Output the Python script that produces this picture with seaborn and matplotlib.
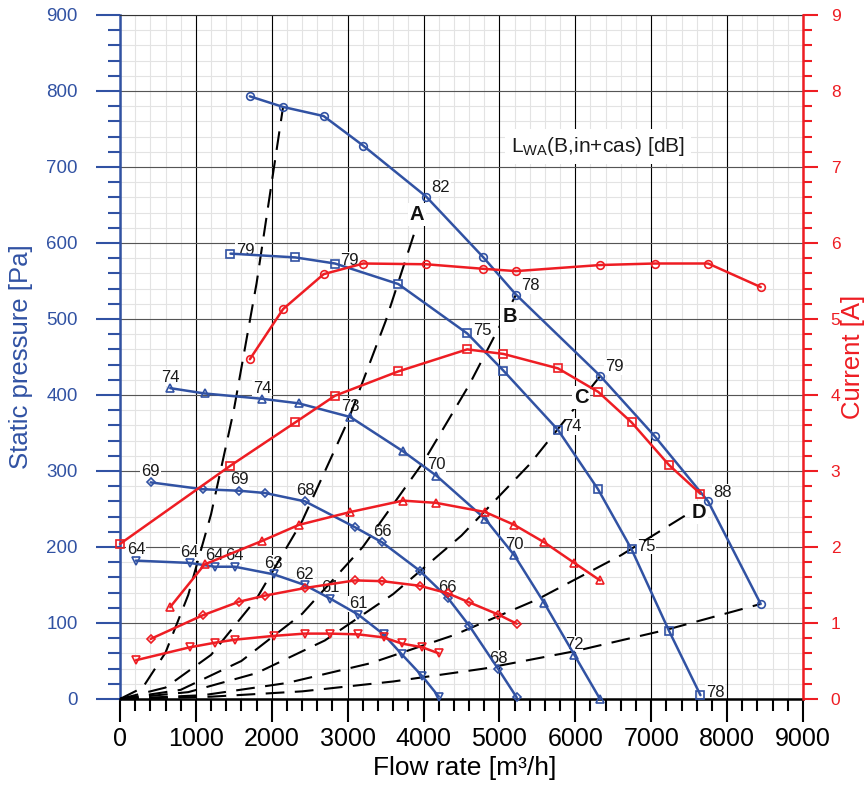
import matplotlib
matplotlib.use("Agg")
import matplotlib.pyplot as plt
import seaborn as sns
from matplotlib.ticker import MultipleLocator

BLUE = '#3152a3'
RED = '#ee1d23'

# circle curve (top speed): flow [m3/h], static pressure [Pa], current [A]
flow_o = [1711, 2149, 2684, 3206, 4035, 4789, 5219, 6329, 7044, 7750, 8443]
pres_o = [793, 779, 767, 728, 661, 581, 532, 425, 346, 260, 125]
curr_o = [4.47, 5.13, 5.59, 5.73, 5.72, 5.66, 5.63, 5.71, 5.73, 5.73, 5.42]
lbl_o_idx = [4, 6, 7, 9]
lbl_o_txt = ['82', '78', '79', '88']

# square curve
flow_s = [1456, 2311, 2833, 3667, 4575, 5053, 5772, 6299, 6741, 7233, 7649]
pres_s = [586, 581, 573, 546, 481, 432, 354, 276, 197, 90, 5]
flow_s_cur = [0, 1456, 2311, 2833, 3667, 4575, 5053, 5772, 6303, 6741, 7233, 7649]
curr_s = [2.04, 3.07, 3.64, 3.99, 4.31, 4.60, 4.54, 4.35, 4.04, 3.64, 3.08, 2.70]
lbl_s_idx = [0, 2, 4, 6, 8, 10]
lbl_s_txt = ['79', '79', '75', '74', '75', '78']

# triangle curve
flow_t = [662, 1114, 1873, 2355, 3035, 3728, 4167, 4811, 5197, 5592, 5987, 6325]
pres_t = [409, 402, 395, 389, 371, 326, 294, 237, 189, 126, 58, 0]
curr_t = [1.21, 1.77, 2.08, 2.29, 2.46, 2.61, 2.58, 2.46, 2.29, 2.06, 1.79, 1.56]
lbl_t_idx = [0, 2, 4, 6, 8, 10]
lbl_t_txt = ['74', '74', '73', '70', '70', '72']

# diamond curve
flow_d = [404, 1088, 1570, 1912, 2439, 3096, 3456, 3947, 4320, 4605, 4987, 5228]
pres_d = [285, 276, 274, 271, 260, 226, 206, 169, 133, 96, 39, 2]
curr_d = [0.79, 1.10, 1.28, 1.36, 1.46, 1.56, 1.55, 1.49, 1.39, 1.27, 1.11, 0.99]
lbl_d_idx = [0, 2, 4, 6, 8, 10]
lbl_d_txt = ['69', '69', '68', '66', '66', '68']

# inverted triangle curve (lowest speed)
flow_v = [211, 921, 1250, 1513, 2026, 2434, 2772, 3140, 3474, 3711, 3983, 4201]
pres_v = [182, 179, 174, 174, 164, 150, 132, 111, 85, 59, 30, 3]
curr_v = [0.51, 0.68, 0.74, 0.78, 0.83, 0.86, 0.86, 0.85, 0.81, 0.73, 0.68, 0.60]
lbl_v_idx = [0, 1, 2, 3, 4, 5, 6, 7]
lbl_v_txt = ['64', '64', '64', '64', '63', '62', '61', '61']

# system curves (dashed)
sys_x = [
    [0, 300, 600, 900, 1200, 1500, 1800, 2149],
    [0, 600, 1200, 1800, 2400, 3000, 3500, 4035],
    [0, 800, 1600, 2400, 3200, 4000, 4600, 5219],
    [0, 900, 1800, 2700, 3600, 4500, 5400, 6329],
    [0, 1100, 2200, 3300, 4400, 5500, 6600, 7750],
    [0, 1200, 2400, 3600, 4800, 6000, 7200, 8443],
]
sys_y = [
    [0, 15, 61, 137, 243, 380, 547, 779],
    [0, 15, 58, 132, 234, 365, 497, 661],
    [0, 12, 50, 112, 200, 312, 413, 532],
    [0, 9, 34, 77, 138, 215, 309, 425],
    [0, 5, 21, 47, 84, 131, 189, 260],
    [0, 3, 10, 23, 40, 63, 91, 125],
]
sys_names = ['A', 'B', 'C', 'D']
sys_name_x = [3914, 5132, 6075, 7632]
sys_name_y = [637, 503, 397, 245]

sns.set_theme(style='white')
plt.rcParams['font.family'] = ['Liberation Sans', 'DejaVu Sans']
plt.rcParams['mathtext.fontset'] = 'custom'
plt.rcParams['mathtext.rm'] = 'Liberation Sans'
plt.rcParams['mathtext.it'] = 'Liberation Sans:italic'

fig = plt.figure(figsize=(8.65, 7.85), dpi=100)
rect = [0.1387, 0.1096, 0.9283 - 0.1387, 0.9809 - 0.1096]

# light minor grid on its own axes underneath, so it never cuts the major lines
ax_bg = fig.add_axes(rect, zorder=-1)
ax_bg.set_xlim(0, 9000)
ax_bg.set_ylim(0, 900)
ax_bg.xaxis.set_major_locator(MultipleLocator(200))
ax_bg.yaxis.set_major_locator(MultipleLocator(20))
ax_bg.grid(True, color='#e3e3e3', lw=0.8)
ax_bg.tick_params(bottom=False, left=False, labelbottom=False, labelleft=False)
for s in ax_bg.spines.values():
    s.set_visible(False)

ax = fig.add_axes(rect)
ax.patch.set_visible(False)
ax2 = ax.twinx()

# dashed system curves
for sx, sy in zip(sys_x, sys_y):
    sns.lineplot(x=sx, y=sy, ax=ax, color='black', lw=1.5, linestyle=(0, (9, 5)),
                 estimator=None, sort=False, zorder=2.6)

curves = [
    (flow_o, pres_o, flow_o, curr_o, 'o', 5.5, lbl_o_idx, lbl_o_txt, 'right'),
    (flow_s, pres_s, flow_s_cur, curr_s, 's', 5.5, lbl_s_idx, lbl_s_txt, 'side'),
    (flow_t, pres_t, flow_t, curr_t, '^', 5.5, lbl_t_idx, lbl_t_txt, 'top'),
    (flow_d, pres_d, flow_d, curr_d, 'D', 4.0, lbl_d_idx, lbl_d_txt, 'top'),
    (flow_v, pres_v, flow_v, curr_v, 'v', 5.5, lbl_v_idx, lbl_v_txt, 'top'),
]

for fx, py, cx, cy, mk, ms, li, lt, pos in curves:
    sns.lineplot(x=fx, y=py, ax=ax, color=BLUE, lw=1.8, marker=mk, ms=ms,
                 mfc='none', mec=BLUE, mew=1.2, estimator=None, sort=False,
                 zorder=3, clip_on=False)
    sns.lineplot(x=cx, y=cy, ax=ax2, color=RED, lw=1.8, marker=mk, ms=ms,
                 mfc='none', mec=RED, mew=1.2, estimator=None, sort=False,
                 zorder=3, clip_on=False)
    for i, t in zip(li, lt):
        if pos == 'right':
            off, ha = (3.5, 3.5), 'left'
        elif pos == 'side':
            off, ha = (4, -1), 'left'
        else:
            off, ha = (0, 4.5), 'center'
        ax.annotate(t, (fx[i], py[i]), xytext=off, textcoords='offset points',
                    ha=ha, va='baseline', fontsize=12, color='#1a1a1a', zorder=2.5,
                    bbox=dict(boxstyle='square,pad=0.05', fc='white', ec='none'))

for n, x, y in zip(sys_names, sys_name_x, sys_name_y):
    ax.text(x, y, n, ha='center', va='center', fontsize=14.5, fontweight='bold',
            color='#111111', zorder=2.8,
            bbox=dict(boxstyle='square,pad=0.1', fc='white', ec='none'))

ax.text(5150, 727, r'L$_{\mathrm{WA}}$(B,in+cas) [dB]', ha='left', va='center',
        fontsize=15, color='#1a1a1a', zorder=2.5,
        bbox=dict(boxstyle='square,pad=0.3', fc='white', ec='none'))

# axes, grid, ticks
ax.set_xlim(0, 9000)
ax.set_ylim(0, 900)
ax2.set_ylim(0, 9)
ax.xaxis.set_major_locator(MultipleLocator(1000))
ax.xaxis.set_minor_locator(MultipleLocator(200))
ax.yaxis.set_major_locator(MultipleLocator(100))
ax.yaxis.set_minor_locator(MultipleLocator(20))
ax2.yaxis.set_major_locator(MultipleLocator(1))
ax2.yaxis.set_minor_locator(MultipleLocator(0.2))

ax.set_axisbelow(True)
ax.grid(which='major', axis='x', color='black', lw=0.8)
ax.grid(which='major', axis='y', color='#555555', lw=0.8)
ax2.grid(False)

ax.tick_params(axis='x', which='major', bottom=True, direction='out', length=16.5,
               width=1.5, color='black', labelsize=18, labelcolor='black', pad=4)
ax.tick_params(axis='x', which='minor', bottom=True, direction='out', length=8.5,
               width=1.5, color='black')
ax.tick_params(axis='y', which='major', left=True, direction='out', length=17,
               width=1.5, colors=BLUE, labelsize=13.5, pad=13.5)
ax.tick_params(axis='y', which='minor', left=True, direction='out', length=8.5,
               width=1.5, colors=BLUE)
ax2.tick_params(axis='y', which='major', right=True, direction='out', length=11,
                width=1.5, colors=RED, labelsize=12.5, pad=9)
ax2.tick_params(axis='y', which='minor', right=True, direction='out', length=6.5,
                width=1.5, colors=RED)

for a in (ax, ax2):
    for s in a.spines.values():
        s.set_visible(False)
ax.spines['left'].set_visible(True)
ax.spines['left'].set_color(BLUE)
ax.spines['left'].set_linewidth(1.8)
ax.spines['bottom'].set_visible(True)
ax.spines['bottom'].set_color('black')
ax.spines['bottom'].set_linewidth(1.8)
ax.spines['top'].set_visible(True)
ax.spines['top'].set_color('#333333')
ax.spines['top'].set_linewidth(0.8)
ax2.spines['right'].set_visible(True)
ax2.spines['right'].set_color(RED)
ax2.spines['right'].set_linewidth(1.8)

ax.set_xlabel('Flow rate [m³/h]', fontsize=19, color='black')
ax.xaxis.set_label_coords(0.505, -0.083)
ax.set_ylabel('Static pressure [Pa]', fontsize=18.5, color=BLUE)
ax.yaxis.set_label_coords(-0.128, 0.5)
ax2.set_ylabel('Current [A]', fontsize=18.5, color=RED)
ax2.yaxis.set_label_coords(1.055, 0.5)

fig.savefig('out.png', dpi=100)
